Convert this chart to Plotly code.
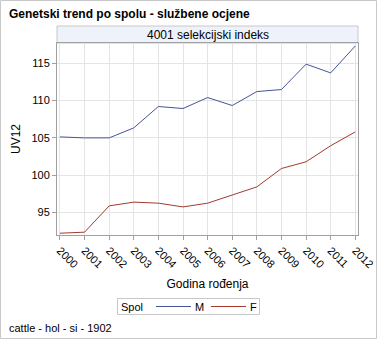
import plotly.graph_objects as go

years = [2000, 2001, 2002, 2003, 2004, 2005, 2006, 2007, 2008, 2009, 2010, 2011, 2012]
male = [105.13, 105.0, 105.0, 106.34, 109.2, 108.93, 110.4, 109.33, 111.2, 111.47, 114.87, 113.7, 117.3]
female = [92.24, 92.38, 95.9, 96.4, 96.26, 95.76, 96.26, 97.33, 98.44, 100.9, 101.8, 103.95, 105.8]
y_ticks = [95, 100, 105, 110, 115]
series_names = ["M", "F"]
series_colors = ["#445694", "#A23A2E"]

W, H = 378, 340
L, R, T, B = 57, 20, 43, 105
PW, PH = W - L - R, H - T - B

def px(x):
    return (x - L) / PW

def py(y):
    return (H - B - y) / PH

FONT = "Liberation Sans, Arial, sans-serif"

fig = go.Figure()
for name, vals, col in zip(series_names, [male, female], series_colors):
    fig.add_trace(go.Scatter(x=years, y=vals, mode="lines", name=name,
                             line=dict(color=col, width=1), showlegend=False))

fig.update_layout(
    width=W, height=H,
    margin=dict(l=L, r=R, t=T, b=B, autoexpand=False),
    paper_bgcolor="white", plot_bgcolor="white",
    font=dict(family=FONT, size=11, color="black"),
    showlegend=False,
)

fig.update_xaxes(range=[1999.88, 2012.11], tickvals=years, ticktext=[str(y) for y in years],
                 tickangle=45, ticks="outside", ticklen=4, tickcolor="#A0A0A0",
                 showgrid=True, gridcolor="#E4E4E4", gridwidth=1,
                 showline=True, linecolor="#A0A0A0", mirror=True, zeroline=False,
                 title=dict(text="Godina rođenja", font=dict(size=12), standoff=10),
                 tickfont=dict(size=11))
fig.update_yaxes(range=[92.0, 117.7], tickvals=y_ticks,
                 ticks="outside", ticklen=4, tickcolor="#A0A0A0",
                 showgrid=True, gridcolor="#E4E4E4", gridwidth=1,
                 showline=True, linecolor="#A0A0A0", mirror=True, zeroline=False,
                 title=dict(text="UV12", font=dict(size=12), standoff=8),
                 tickfont=dict(size=11))

# header strip
fig.add_shape(type="rect", xref="paper", yref="paper", x0=0, x1=1,
              y0=1, y1=1 + 17 / PH, fillcolor="#EEF3FB",
              line=dict(color="#C8C8C8", width=1), layer="below")
fig.add_annotation(xref="paper", yref="paper", x=0.5, y=1 + 8.5 / PH,
                   text="4001 selekcijski indeks", showarrow=False,
                   font=dict(size=12), xanchor="center", yanchor="middle")

# outer border
fig.add_shape(type="rect", xref="paper", yref="paper",
              x0=px(0.5), x1=px(376.5), y0=py(0.5), y1=py(338.5),
              line=dict(color="#C8C8C8", width=1), fillcolor="rgba(0,0,0,0)")

# title
fig.add_annotation(xref="paper", yref="paper", x=px(7), y=py(14),
                   text="<b>Genetski trend po spolu - službene ocjene</b>", showarrow=False,
                   font=dict(size=12), xanchor="left", yanchor="middle")
# footnote
fig.add_annotation(xref="paper", yref="paper", x=px(7), y=py(328),
                   text="cattle - hol - si - 1902", showarrow=False,
                   font=dict(size=11), xanchor="left", yanchor="middle")

# legend (drawn manually to match the compact boxed layout)
fig.add_shape(type="rect", xref="paper", yref="paper",
              x0=px(117.5), x1=px(259.5), y0=py(298.5), y1=py(314.5),
              line=dict(color="#C8C8C8", width=1), fillcolor="white")
fig.add_annotation(xref="paper", yref="paper", x=px(119), y=py(306.5),
                   text="Spol", showarrow=False, font=dict(size=11),
                   xanchor="left", yanchor="middle")
for i, (name, col) in enumerate(zip(series_names, series_colors)):
    x0 = 156 + i * 55
    fig.add_shape(type="line", xref="paper", yref="paper",
                  x0=px(x0), x1=px(x0 + 35), y0=py(306.5), y1=py(306.5),
                  line=dict(color=col, width=1))
    fig.add_annotation(xref="paper", yref="paper", x=px(x0 + 37), y=py(306.5),
                       text=name, showarrow=False, font=dict(size=11),
                       xanchor="left", yanchor="middle")

fig.write_html("out.html")
